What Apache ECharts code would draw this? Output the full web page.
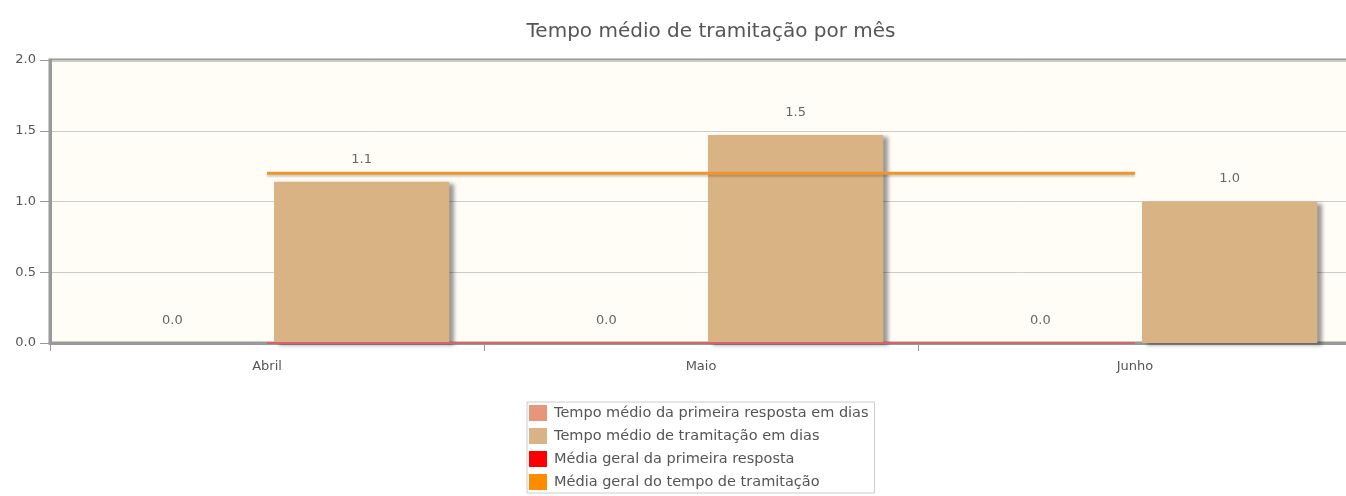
<!DOCTYPE html>
<html>
<head>
<meta charset="utf-8">
<script src="https://cdn.jsdelivr.net/npm/echarts@6/dist/echarts.min.js"></script>
<style>
  html, body { margin: 0; padding: 0; background: #fff; }
  #chart { width: 1346px; height: 496px; }
</style>
</head>
<body>
<div id="chart"></div>
<script>
  // dados
  var meses = ['Abril', 'Maio', 'Junho']
  var primeiraResposta = [0, 0, 0]
  var tramitacao = [1.14, 1.47, 1.0]
  var mediaPrimeira = [0, 0, 0]
  var mediaTramitacao = [1.2, 1.2, 1.2]
  var nomes = [
    'Tempo médio da primeira resposta em dias',
    'Tempo médio de tramitação em dias',
    'Média geral da primeira resposta',
    'Média geral do tempo de tramitação'
  ]

  var fonte = 'DejaVu Sans'
  var chart = echarts.init(document.getElementById('chart'))

  var barLabel = {
    show: true,
    position: 'top',
    distance: 16,
    color: '#666',
    fontSize: 13,
    fontFamily: fonte,
    formatter: function (p) { return p.value.toFixed(1) }
  }
  var barShadow = {
    shadowColor: 'rgba(0, 0, 0, 0.4)',
    shadowBlur: 4,
    shadowOffsetX: 5,
    shadowOffsetY: 2
  }

  chart.setOption({
    animation: false,
    title: {
      text: 'Tempo médio de tramitação por mês',
      left: 706,
      textAlign: 'center',
      top: 17,
      textStyle: { color: '#555', fontSize: 20, fontWeight: 'normal', fontFamily: fonte }
    },
    legend: {
      orient: 'vertical',
      left: 527,
      top: 402,
      icon: 'rect',
      itemWidth: 18,
      itemHeight: 16,
      itemGap: 7,
      padding: [3, 6, 3, 2],
      borderColor: '#ccc',
      borderWidth: 1,
      textStyle: { color: '#555', fontSize: 14.5, fontFamily: fonte, padding: [0, 0, 0, 2] },
      data: nomes
    },
    grid: {
      left: 50,
      top: 60,
      width: 1302,
      bottom: 153,
      outerBoundsMode: 'none',
      containLabel: false,
      show: true,
      backgroundColor: '#fffdf6',
      borderColor: '#999',
      borderWidth: 3
    },
    xAxis: {
      type: 'category',
      data: meses,
      axisLine: { lineStyle: { color: '#999', width: 3 } },
      axisTick: { show: true, length: 8, lineStyle: { color: '#999', width: 1 } },
      axisLabel: { color: '#555', fontSize: 13, fontFamily: fonte, margin: 17 }
    },
    yAxis: {
      type: 'value',
      min: 0,
      max: 2,
      interval: 0.5,
      axisLine: { show: true, lineStyle: { color: '#999', width: 3 } },
      axisTick: { show: true, length: 10, lineStyle: { color: '#999', width: 1 } },
      axisLabel: {
        color: '#555', fontSize: 13, fontFamily: fonte, margin: 14,
        formatter: function (v) { return v.toFixed(1) }
      },
      splitLine: { lineStyle: { color: '#ccc', width: 1 } }
    },
    series: [
      {
        name: nomes[0],
        type: 'bar',
        data: primeiraResposta,
        barGap: '8%',
        barCategoryGap: '16%',
        itemStyle: Object.assign({ color: '#e8967a' }, barShadow),
        label: barLabel
      },
      {
        name: nomes[1],
        type: 'bar',
        data: tramitacao,
        itemStyle: Object.assign({ color: '#d9b383' }, barShadow),
        label: barLabel
      },
      {
        name: nomes[2],
        type: 'line',
        data: mediaPrimeira,
        z: 5,
        showSymbol: false,
        symbol: 'none',
        itemStyle: { color: '#ff0000' },
        lineStyle: { color: '#d9636a', width: 2 }
      },
      {
        name: nomes[3],
        type: 'line',
        data: mediaTramitacao,
        z: 5,
        showSymbol: false,
        symbol: 'none',
        itemStyle: { color: '#ff8c00' },
        lineStyle: {
          color: '#f0952a', width: 3,
          shadowColor: 'rgba(0,0,0,0.2)', shadowBlur: 2, shadowOffsetY: 2
        }
      }
    ]
  })
</script>
</body>
</html>
